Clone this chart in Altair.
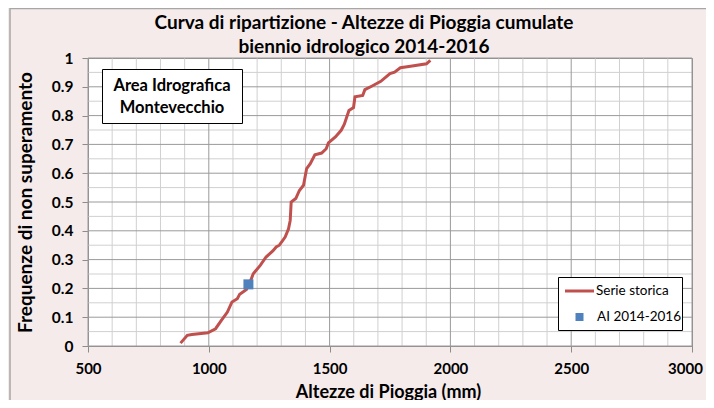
import altair as alt
import pandas as pd

# ---- data ----
rain_mm = [883, 911, 930, 996, 1028, 1052, 1077, 1096, 1118, 1128, 1156, 1170, 1184,
           1213, 1237, 1265, 1279, 1292, 1316, 1330, 1337, 1341, 1360, 1375, 1392,
           1405, 1420, 1439, 1467, 1486, 1495, 1524, 1548, 1561, 1580, 1599, 1605,
           1637, 1646, 1674, 1712, 1750, 1769, 1793, 1835, 1901, 1917]
freq = [0.010, 0.037, 0.040, 0.046, 0.060, 0.089, 0.118, 0.153, 0.164, 0.180, 0.196,
        0.220, 0.251, 0.280, 0.309, 0.330, 0.344, 0.350, 0.378, 0.407, 0.436, 0.500,
        0.512, 0.540, 0.558, 0.616, 0.633, 0.664, 0.670, 0.685, 0.705, 0.726, 0.749,
        0.770, 0.818, 0.828, 0.865, 0.870, 0.890, 0.902, 0.919, 0.946, 0.951, 0.966,
        0.971, 0.980, 0.992]
obs_mm = [1164]
obs_freq = [0.214]
series_names = ["Serie storica", "AI 2014-2016"]
title_lines = ["Curva di ripartizione - Altezze di Pioggia cumulate", "biennio idrologico 2014-2016"]
box_lines = ["Area Idrografica", "Montevecchio"]
x_major = [500, 1000, 1500, 2000, 2500, 3000]
x_minor = [v for v in range(500, 3001, 100) if v % 500 != 0]
y_major = [0, 0.1, 0.2, 0.3, 0.4, 0.5, 0.6, 0.7, 0.8, 0.9, 1]
y_minor = [0.05, 0.15, 0.25, 0.35, 0.45, 0.55, 0.65, 0.75, 0.85, 0.95]

RED = "#C0504D"
BLUE = "#4F81BD"
FONT = "Lato"
MAJOR = "#9a9a9a"
MINOR = "#d0d0d0"

line_df = pd.DataFrame({"mm": rain_mm, "f": freq, "i": range(len(rain_mm))})
pt_df = pd.DataFrame({"mm": obs_mm, "f": obs_freq})
one = pd.DataFrame({"a": [0]})

xscale = alt.Scale(domain=[500, 3000], nice=False, zero=False)
yscale = alt.Scale(domain=[0, 1], nice=False, zero=False)

x_axis = alt.Axis(
    values=x_major, title="Altezze di Pioggia (mm)", format="d", grid=False,
    labelFont=FONT, labelFontSize=15, labelFontWeight="bold", labelColor="black",
    labelPadding=9, tickSize=6, tickColor="#8c8c8c", labelOverlap=False,
    labelOffset={"condition": {"test": "datum.value === 3000", "value": -7}, "value": 0},
    domainColor="#8c8c8c", labelFlush=False,
    titleFont=FONT, titleFontSize=18, titleFontWeight="bold", titleColor="black",
    titleX=300, titleY=46, titleBaseline="middle",
)
y_axis = alt.Axis(
    values=y_major, title="Frequenze di non superamento", format=".1~f", grid=False,
    labelFont=FONT, labelFontSize=15.5, labelFontWeight="bold", labelColor="black",
    labelPadding=9, tickSize=6, tickColor="#8c8c8c", labelOverlap=False,
    domainColor="#8c8c8c", labelFlush=False,
    titleFont=FONT, titleFontSize=19, titleFontWeight="bold", titleColor="black",
    titleX=-63, titleY=144, titleBaseline="middle",
)

def vgrid(vals, color):
    return alt.Chart(pd.DataFrame({"v": vals})).mark_rule(color=color, strokeWidth=1).encode(
        x=alt.X("v:Q", scale=xscale, axis=x_axis))

def hgrid(vals, color):
    return alt.Chart(pd.DataFrame({"v": vals})).mark_rule(color=color, strokeWidth=1).encode(
        y=alt.Y("v:Q", scale=yscale, axis=y_axis))

grid = [vgrid(x_minor, MINOR), hgrid(y_minor, MINOR), vgrid(x_major, MAJOR), hgrid(y_major, MAJOR)]

line = alt.Chart(line_df).mark_line(strokeWidth=3, clip=True, color=RED).encode(
    x=alt.X("mm:Q", scale=xscale, axis=x_axis),
    y=alt.Y("f:Q", scale=yscale, axis=y_axis),
    order="i:Q",
)

pts = alt.Chart(pt_df).mark_point(shape="square", filled=True, size=100, opacity=1,
                                  color=BLUE).encode(
    x=alt.X("mm:Q", scale=xscale, axis=x_axis),
    y=alt.Y("f:Q", scale=yscale, axis=y_axis),
)

# decorative outer frame of the chart area
frame = alt.Chart(one).mark_rect(fill="transparent", stroke="#a6a6a6", strokeWidth=1.5).encode(
    x=alt.value(-78), x2=alt.value(700), y=alt.value(-49.5), y2=alt.value(400)
)

# chart title
title = alt.Chart(one).mark_text(
    text=title_lines, font=FONT, fontSize=19, fontWeight="bold", color="black",
    lineHeight=24, align="center", baseline="middle"
).encode(x=alt.value(276), y=alt.value(-35))

# annotation text box
box = alt.Chart(one).mark_rect(fill="white", stroke="black", strokeWidth=1).encode(
    x=alt.value(14.5), x2=alt.value(154.5), y=alt.value(11.5), y2=alt.value(65.5)
)
box_text = alt.Chart(one).mark_text(
    text=box_lines, font=FONT, fontSize=16.5, fontWeight="bold", color="black",
    lineHeight=22, align="center", baseline="middle"
).encode(x=alt.value(84), y=alt.value(27.7))

# legend (drawn as a small annotation group)
leg_box = alt.Chart(one).mark_rect(fill="white", stroke="black", strokeWidth=1).encode(
    x=alt.value(470.5), x2=alt.value(594.5), y=alt.value(219.5), y2=alt.value(272.5)
)
leg_line = alt.Chart(one).mark_rule(color=RED, strokeWidth=3).encode(
    x=alt.value(477), x2=alt.value(506), y=alt.value(233)
)
leg_sq = alt.Chart(one).mark_point(shape="square", filled=True, size=64, opacity=1,
                                   color=BLUE).encode(x=alt.value(491.5), y=alt.value(259))
leg_t1 = alt.Chart(one).mark_text(text=series_names[0], font=FONT, fontSize=13.5,
                                  color="black", align="left", baseline="middle").encode(
    x=alt.value(508), y=alt.value(233))
leg_t2 = alt.Chart(one).mark_text(text=series_names[1], font=FONT, fontSize=13.5,
                                  color="black", align="left", baseline="middle").encode(
    x=alt.value(509), y=alt.value(259))

chart = alt.layer(frame, *grid, line, box, box_text, pts, leg_box, leg_line, leg_sq,
                  leg_t1, leg_t2, title).properties(
    width=604, height=288,
    autosize=alt.AutoSizeParams(type="none"),
    padding={"left": 80, "top": 50, "right": 14, "bottom": 54},
    background="#F5EBEB",
).configure_view(stroke="#8c8c8c", strokeWidth=1, fill="white")

chart.save("out.html", embed_options={"renderer": "svg", "actions": False})
